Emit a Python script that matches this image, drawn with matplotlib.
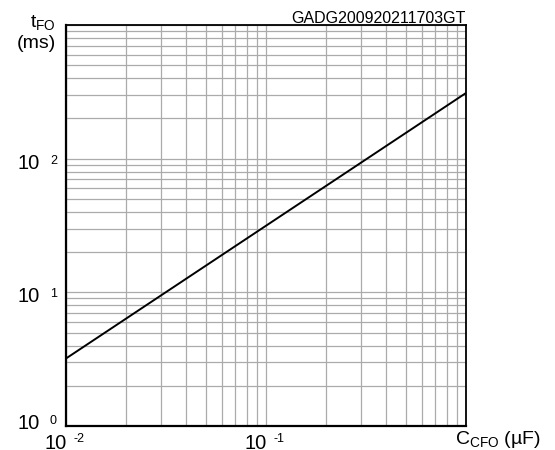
import matplotlib

matplotlib.use("Agg")
import matplotlib.pyplot as plt
from matplotlib.ticker import LogLocator, NullFormatter
from matplotlib.transforms import offset_copy

plt.rcParams["font.family"] = ["Liberation Sans", "DejaVu Sans"]
plt.rcParams["mathtext.fontset"] = "custom"
plt.rcParams["mathtext.rm"] = "Liberation Sans"
plt.rcParams["mathtext.it"] = "Liberation Sans"

# ------------------------------------------------------------------ данные
cap_uf = [0.01, 1.0]          # C_CFO, µF
t_fo_ms = [3.2, 310.0]        # t_FO, ms
x_major = [1e-2, 1e-1]
x_exp = ["-2", "-1"]
y_major = [1e0, 1e1, 1e2]
y_exp = ["0", "1", "2"]


def shift(trans, dx, dy):
    """Сдвиг в пикселях."""
    return offset_copy(trans, fig, x=dx, y=dy, units="dots")


fig = plt.figure(figsize=(5.55, 4.5), dpi=100)
ax = fig.add_axes([66 / 555, 24 / 450, 400 / 555, 401 / 450])
ax.set_xscale("log")
ax.set_yscale("log")
ax.set_xlim(1e-2, 1e0)
ax.set_ylim(1e0, 1e3)

ax.xaxis.set_minor_locator(LogLocator(base=10, subs=range(2, 10)))
ax.yaxis.set_minor_locator(LogLocator(base=10, subs=range(2, 10)))
ax.xaxis.set_minor_formatter(NullFormatter())
ax.yaxis.set_minor_formatter(NullFormatter())
ax.set_xticks([1e-2, 1e-1, 1e0])
ax.set_yticks([1e0, 1e1, 1e2, 1e3])
ax.set_xticklabels([])
ax.set_yticklabels([])
ax.tick_params(which="both", length=0)
ax.grid(which="both", color="#ababab", lw=0.9)
ax.set_axisbelow(True)
for s in ax.spines.values():
    s.set_color("black")
    s.set_linewidth(1.3)
for s in ("left", "bottom"):
    ax.spines[s].set_linewidth(1.6)

ax.plot(cap_uf, t_fo_ms, color="black", lw=1.4, solid_capstyle="butt")

# ------------------------------------------------------------------ подписи осей
xt = ax.get_xaxis_transform()
for v, e in zip(x_major, x_exp):
    ax.text(v, 0, "10", transform=shift(xt, 1, -8),
            ha="right", va="top", fontsize=14.5)
    ax.text(v, 0, e, transform=shift(xt, 7, -7),
            ha="left", va="top", fontsize=9)

yt = ax.get_yaxis_transform()
for v, e in zip(y_major, y_exp):
    dy = 12 if v == 1e0 else 5
    ax.text(0, v, "10", transform=shift(yt, -26, dy),
            ha="right", va="top", fontsize=14.5)
    ax.text(0, v, e, transform=shift(yt, -16, dy - 1),
            ha="left", va="top", fontsize=9)

ax.text(1, 0, r"$\mathregular{C_{CFO}}$ (µF)",
        transform=shift(ax.transAxes, -11, -3),
        ha="left", va="top", fontsize=14)
ax.text(0, 1, r"$\mathregular{t_{FO}}$",
        transform=shift(ax.transAxes, -10, -2),
        ha="right", va="baseline", fontsize=14)
ax.text(0, 1, "(ms)",
        transform=shift(ax.transAxes, -10, -18),
        ha="right", va="center", fontsize=14)

ax.text(1, 1, "GADG200920211703GT",
        transform=shift(ax.transAxes, 0, 2),
        ha="right", va="baseline", fontsize=11.5)

fig.savefig("out.png", dpi=100)
plt.close(fig)
